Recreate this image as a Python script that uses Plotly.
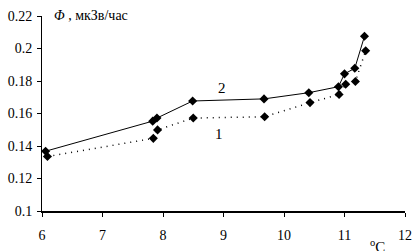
import plotly.graph_objects as go

# Series 1 (dotted)
x1 = [6.09, 7.84, 7.91, 8.50, 9.68, 10.43, 10.91, 11.02, 11.18, 11.35]
y1 = [0.1335, 0.1447, 0.1499, 0.1572, 0.1580, 0.1667, 0.1717, 0.1780, 0.1797, 0.1986]
# Series 2 (solid)
x2 = [6.06, 7.83, 7.90, 8.49, 9.67, 10.41, 10.90, 11.00, 11.17, 11.33]
y2 = [0.1368, 0.1553, 0.1572, 0.1677, 0.1690, 0.1728, 0.1765, 0.1844, 0.1878, 0.2075]

x_ticks = [6, 7, 8, 9, 10, 11, 12]
y_ticks = [0.1, 0.12, 0.14, 0.16, 0.18, 0.2, 0.22]
y_tick_text = ["0.1", "0.12", "0.14", "0.16", "0.18", "0.2", "0.22"]

font = "Liberation Serif, DejaVu Serif, serif"

fig = go.Figure()
fig.add_trace(go.Scatter(x=x1, y=y1, mode="lines+markers",
                         line=dict(color="black", width=1.5, dash="1px,5px"),
                         marker=dict(symbol="diamond", size=7, color="black"),
                         showlegend=False, hoverinfo="skip"))
fig.add_trace(go.Scatter(x=x2, y=y2, mode="lines+markers",
                         line=dict(color="black", width=1),
                         marker=dict(symbol="diamond", size=7, color="black"),
                         showlegend=False, hoverinfo="skip"))

fig.update_layout(
    width=420, height=251,
    margin=dict(l=38, r=8, t=16, b=33),
    paper_bgcolor="white", plot_bgcolor="white",
    font=dict(family=font, size=14, color="black"),
    xaxis=dict(range=[6, 12], tickvals=x_ticks, showgrid=False, zeroline=False,
               showline=True, linecolor="black", linewidth=2,
               ticks="outside", ticklen=4, tickcolor="black", tickwidth=1,
               ticklabelstandoff=6, fixedrange=True),
    yaxis=dict(range=[0.1, 0.22], tickvals=y_ticks, ticktext=y_tick_text,
               showgrid=False, zeroline=False,
               showline=True, linecolor="black", linewidth=1,
               ticks="outside", ticklen=4, tickcolor="black", tickwidth=1,
               ticklabelstandoff=2, fixedrange=True),
    annotations=[
        dict(text="<i>Φ</i> , мкЗв/час", x=(48 - 38) / 374, y=(218 - 15) / 202,
             xref="paper", yref="paper",
             showarrow=False, xanchor="left", yanchor="middle"),
        dict(text="2", x=8.98, y=0.1760, xref="x", yref="y", showarrow=False,
             font=dict(size=15)),
        dict(text="1", x=8.92, y=0.1475, xref="x", yref="y", showarrow=False,
             font=dict(size=15)),
        dict(text="<sup>o</sup>C", x=11.55, y=-0.125, xref="x", yref="paper",
             showarrow=False, xanchor="center", yanchor="top",
             font=dict(size=15)),
    ],
)

fig.write_html("out.html", config={"displayModeBar": False, "staticPlot": True},
               post_script="document.body.style.margin='0';document.body.style.padding='0';")
